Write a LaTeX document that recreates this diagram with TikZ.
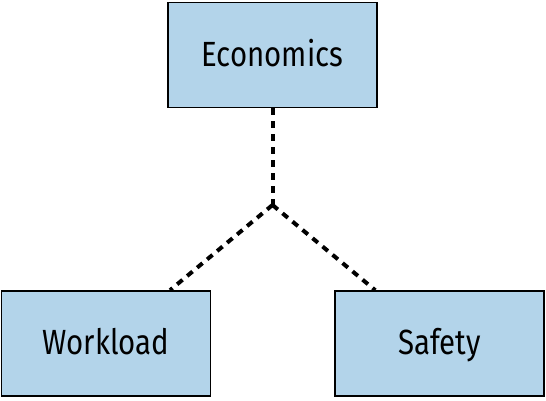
\documentclass[tikz,border=0pt]{standalone}
\usepackage{fontspec}
\setmainfont[FakeStretch=0.84]{Fira Sans}
\usepackage{tikz}
\definecolor{boxblue}{HTML}{B3D4EA}

\begin{document}
\begin{tikzpicture}[x=1pt, y=-1pt, thick,
    factor/.style={draw=black, line width=1.6pt, fill=boxblue, minimum width=209pt, minimum height=105pt, inner sep=0pt, text height=24pt, text depth=2pt, font=\fontsize{35}{40}\selectfont},
    link/.style={line width=4pt, dash pattern=on 7pt off 6pt}]
	\useasboundingbox (0,0) rectangle (546,400);
	% top box
	\node[factor] (eco) at (272.5,55) {Economics};
	% bottom boxes
	\node[factor] (work) at (106,343.5) {Workload};
	\node[factor] (safe) at (439.5,343.5) {Safety};
	% branch point
	\coordinate (fork) at (272.5,205);
	% dashed links
	\draw[link] (eco) -- (fork);
	\draw[link] (fork) -- (work);
	\draw[link] (fork) -- (safe);
\end{tikzpicture}
\end{document}
